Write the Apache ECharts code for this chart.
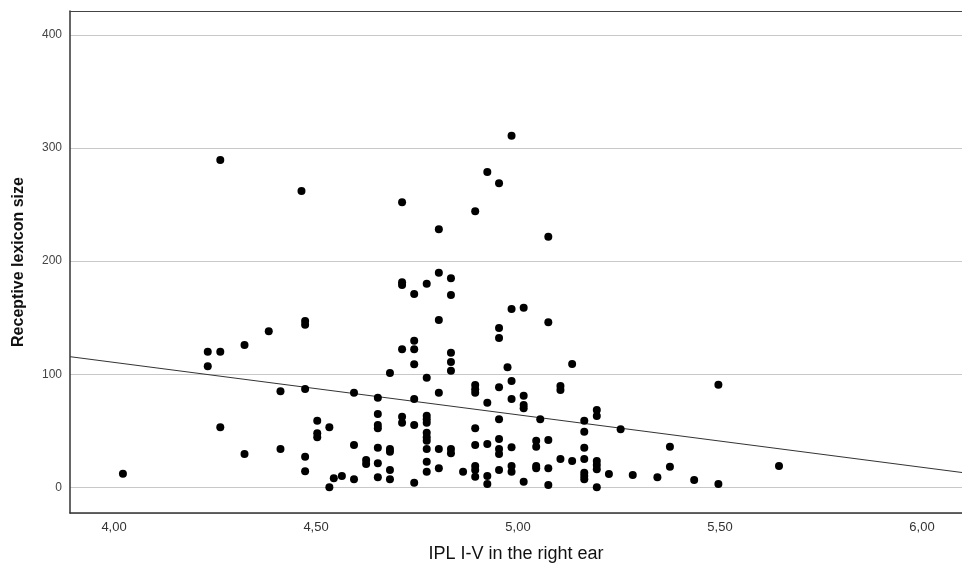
<!DOCTYPE html>
<html>
<head>
<meta charset="utf-8">
<script src="https://cdn.jsdelivr.net/npm/echarts@6/dist/echarts.min.js"></script>
<style>html,body{margin:0;padding:0;background:#fff}#c{width:962px;height:569px}</style>
</head>
<body>
<div id="c"></div>
<script>
// IPL I-V in the right ear (x) for each participant
const iplValues = [
  4.022,4.263,4.464,4.232,4.263,4.232,4.323,4.383,4.473,4.473,
  4.263,4.323,4.412,4.412,4.473,4.473,4.473,4.503,4.503,4.503,
  4.533,4.533,4.544,4.564,4.594,4.594,4.594,4.624,4.624,4.653,
  4.653,4.653,4.653,4.653,4.653,4.653,
  4.683,4.683,4.683,4.683,4.683,
  4.713,4.713,4.713,4.713,4.713,4.713,
  4.743,4.743,4.743,4.743,4.743,4.743,4.743,
  4.774,4.774,4.774,4.774,4.774,4.774,4.774,4.774,4.774,4.774,4.774,
  4.804,4.804,4.804,4.804,4.804,4.804,
  4.834,4.834,4.834,4.834,4.834,4.834,4.834,
  4.864,
  4.894,4.894,4.894,4.894,4.894,4.894,4.894,4.894,4.894,
  4.924,4.924,4.924,4.924,4.924,
  4.953,4.953,4.953,4.953,4.953,4.953,4.953,4.953,4.953,
  4.974,
  4.984,4.984,4.984,4.984,4.984,4.984,4.984,
  5.014,5.014,5.014,5.014,5.014,
  5.045,5.045,5.045,5.045,
  5.055,
  5.075,5.075,5.075,5.075,5.075,
  5.105,5.105,5.105,
  5.134,5.134,
  5.164,5.164,5.164,5.164,5.164,5.164,5.164,
  5.195,5.195,5.195,5.195,5.195,5.195,
  5.225,5.254,5.284,5.345,5.376,5.376,5.436,5.496,5.496,5.646
];
// Receptive lexicon size (y) for each participant
const lexiconValues = [
  12.0,289.4,262.0,119.9,119.9,107.0,125.8,137.9,147.0,143.8,
  53.0,29.4,84.9,33.9,86.9,27.1,14.1,58.9,47.7,44.2,
  53.0,0.0,8.0,10.0,83.6,37.4,7.1,24.1,20.6,79.2,
  64.8,55.1,52.2,35.0,21.2,8.8,
  101.1,33.9,31.5,15.3,7.1,
  252.0,181.2,178.9,122.0,62.4,57.1,
  170.9,129.6,122.0,108.7,78.1,55.1,4.1,
  180.0,96.9,63.3,60.1,57.1,48.3,44.2,41.2,33.9,22.6,13.8,
  228.1,189.7,147.9,83.6,33.9,16.8,
  184.8,170.0,119.0,110.8,103.1,33.9,30.1,
  13.8,
  244.0,90.5,86.6,83.6,52.2,37.4,18.8,15.3,9.4,
  278.8,74.8,38.3,10.0,2.9,
  268.8,140.8,132.0,88.4,60.1,42.7,33.9,29.4,15.3,
  106.1,
  310.9,157.7,94.0,78.1,35.4,18.8,13.8,
  158.8,81.0,72.8,69.8,5.0,
  41.2,35.9,18.8,16.8,
  60.1,
  221.6,145.9,41.8,16.8,2.0,
  89.6,86.0,25.0,
  109.0,23.3,
  58.9,49.2,35.0,25.0,12.9,10.0,7.1,
  68.3,63.0,23.3,19.7,15.9,0.0,
  11.8,51.3,10.9,8.8,35.9,18.2,6.5,90.7,2.9,18.8
];
// Fit line endpoints (x, y)
const fitLineX = [3.891, 6.099];
const fitLineY = [115.5, 13.1];

const xRange = [3.891, 6.099];
const yRange = [-22.7, 421.1];

const points = iplValues.map((x, i) => [x, lexiconValues[i]]);
const fitLine = fitLineX.map((x, i) => [x, fitLineY[i]]);

const near = (v, step) => Math.abs(v / step - Math.round(v / step)) < 1e-6;

const chart = echarts.init(document.getElementById('c'), null, {renderer: 'canvas'});
chart.setOption({
  animation: false,
  backgroundColor: '#ffffff',
  grid: {left: 70, right: 0, top: 11, bottom: 56, containLabel: false},
  xAxis: [{
    type: 'value', min: xRange[0], max: xRange[1], splitNumber: 5,
    name: 'IPL I-V in the right ear', nameLocation: 'middle', nameGap: 32,
    nameTextStyle: {fontFamily: 'Liberation Sans Narrow, Arial Narrow, Liberation Sans, sans-serif', fontSize: 18, color: '#111'},
    axisLine: {show: true, onZero: false, lineStyle: {color: '#333', width: 1.5}},
    axisTick: {show: false},
    splitLine: {show: false},
    axisLabel: {
      margin: 8, color: '#333', fontSize: 13,
      fontFamily: 'Liberation Sans Narrow, Arial Narrow, Liberation Sans, sans-serif',
      showMinLabel: false, showMaxLabel: false,
      formatter: v => near(v, 0.5) ? v.toFixed(2).replace('.', ',') : ''
    }
  }, {
    type: 'value', position: 'top', min: xRange[0], max: xRange[1],
    axisLine: {show: true, onZero: false, lineStyle: {color: '#444', width: 1}},
    axisTick: {show: false}, axisLabel: {show: false}, splitLine: {show: false}
  }],
  yAxis: {
    type: 'value', min: yRange[0], max: yRange[1], splitNumber: 5,
    name: 'Receptive lexicon size', nameLocation: 'middle', nameGap: 43,
    nameTextStyle: {fontFamily: 'Liberation Sans, Arial, sans-serif', fontSize: 16, fontWeight: 'bold', color: '#111'},
    axisLine: {show: true, onZero: false, lineStyle: {color: '#333', width: 1.5}},
    axisTick: {show: false},
    splitLine: {show: true, lineStyle: {color: '#c8c8c8', width: 1}},
    axisLabel: {
      margin: 8, color: '#444', fontSize: 12,
      fontFamily: 'Liberation Sans, Arial, sans-serif',
      showMinLabel: false, showMaxLabel: false,
      formatter: v => near(v, 100) ? String(Math.round(v)) : ''
    }
  },
  series: [
    {
      type: 'line', data: fitLine, symbol: 'none', silent: true,
      lineStyle: {color: '#333', width: 1}, z: 2
    },
    {
      type: 'scatter', data: points, symbol: 'circle', symbolSize: 8,
      itemStyle: {color: '#000', opacity: 1}, z: 3
    }
  ]
});
</script>
</body>
</html>
